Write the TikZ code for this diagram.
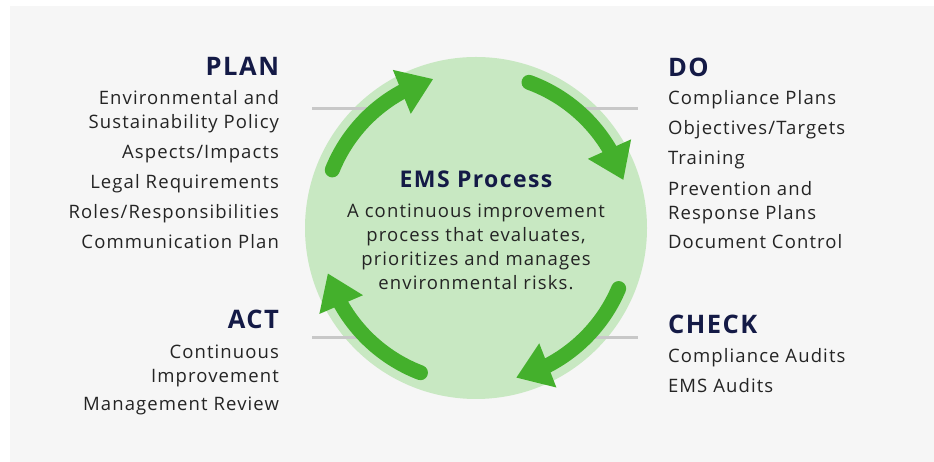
\documentclass[tikz,border=0pt]{standalone}
\usepackage{fontspec}
\setmainfont{Open Sans}[LetterSpace=6]
\usetikzlibrary{arrows.meta,bending}
\definecolor{bggray}{HTML}{F6F6F6}
\definecolor{discgreen}{HTML}{C8E8C2}
\definecolor{arrowgreen}{HTML}{44B02C}
\definecolor{headnavy}{HTML}{141A46}
\definecolor{bodytext}{HTML}{242424}
\definecolor{tickgray}{HTML}{C8C8C8}
\begin{document}
\begin{tikzpicture}[x=1pt,y=1pt,inner sep=0pt,outer sep=0pt,
phasehead/.style={font=\fontsize{25.5}{30}\selectfont\bfseries,text=headnavy},
phaseitem/.style={font=\fontsize{18.5}{24}\selectfont,text=bodytext},
lefttext/.style={anchor=base east,align=right},
righttext/.style={anchor=base west,align=left},
cyclearrow/.style={line width=15pt,draw=arrowgreen,line cap=round,-{Triangle[length=34pt,width=45pt,flex]}},
tickline/.style={line width=3pt,draw=tickgray}]
\useasboundingbox (0,0) rectangle (934,462);
\fill[bggray] (10,0) rectangle (934,456);
\coordinate (c) at (476,234);
\fill[discgreen] (c) circle (171);
\draw[tickline] (312,353) -- (385,353);
\draw[tickline] (566,353) -- (638,353);
\draw[tickline] (312,124) -- (375,124);
\draw[tickline] (578,124) -- (638,124);
\draw[cyclearrow] (c) ++(158:155) arc[start angle=158,end angle=106,radius=155];
\draw[cyclearrow] (c) ++(70:155) arc[start angle=70,end angle=18,radius=155];
\draw[cyclearrow] (c) ++(-23:155) arc[start angle=-23,end angle=-75,radius=155];
\draw[cyclearrow] (c) ++(249:155) arc[start angle=249,end angle=197,radius=155];
\node[anchor=base,font=\fontsize{23}{26}\selectfont\bfseries,text=headnavy] (ems) at (476,274) {EMS Process};
\node[phaseitem,anchor=base,align=center] (emsdesc) at (476,172)
  {A continuous improvement\\process that evaluates,\\prioritizes and manages\\environmental risks.};
\node[phasehead,lefttext] (plan) at (279,386) {PLAN};
\node[phaseitem,lefttext] (plan1) at (279,333) {Environmental and\\Sustainability Policy};
\node[phaseitem,lefttext] (plan2) at (279,303) {Aspects/Impacts};
\node[phaseitem,lefttext] (plan3) at (279,273) {Legal Requirements};
\node[phaseitem,lefttext] (plan4) at (279,243) {Roles/Responsibilities};
\node[phaseitem,lefttext] (plan5) at (279,213) {Communication Plan};
\node[phasehead,lefttext] (act) at (279,133) {ACT};
\node[phaseitem,lefttext] (act1) at (279,79) {Continuous\\Improvement};
\node[phaseitem,lefttext] (act2) at (279,51) {Management Review};
\node[phasehead,righttext] (do) at (668,385) {DO};
\node[phaseitem,righttext] (do1) at (668,357) {Compliance Plans};
\node[phaseitem,righttext] (do2) at (668,327) {Objectives/Targets};
\node[phaseitem,righttext] (do3) at (668,297) {Training};
\node[phaseitem,righttext] (do4) at (668,242) {Prevention and\\Response Plans};
\node[phaseitem,righttext] (do5) at (668,213) {Document Control};
\node[phasehead,righttext] (check) at (668,128) {CHECK};
\node[phaseitem,righttext] (check1) at (668,99) {Compliance Audits};
\node[phaseitem,righttext] (check2) at (668,69) {EMS Audits};
\end{tikzpicture}
\end{document}
